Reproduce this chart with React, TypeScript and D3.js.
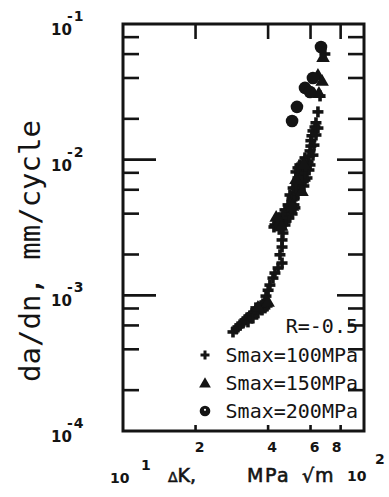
import * as d3 from 'd3';

// da/dn vs ΔK, R = -0.5
const smax100: [number, number][] = [
  [28.6, 0.000537], [29.5, 0.000565], [30.0, 0.000585], [30.6, 0.000605], [31.5, 0.000626],
  [32.1, 0.000659], [32.7, 0.000681], [33.0, 0.000637], [33.6, 0.000705], [34.3, 0.00073],
  [34.6, 0.000681], [35.3, 0.000755], [35.6, 0.000808], [36.3, 0.000742], [37.0, 0.000821],
  [37.7, 0.00078], [38.1, 0.000865], [38.8, 0.000808], [39.6, 0.000835], [38.8, 0.000894],
  [39.2, 0.000987], [40.0, 0.00109], [40.7, 0.00119], [41.9, 0.00134], [42.7, 0.00146],
  [44.0, 0.00159], [45.7, 0.00173], [44.8, 0.00199], [45.7, 0.00227], [45.7, 0.00256],
  [46.1, 0.00288], [42.7, 0.0033], [44.0, 0.00347], [45.3, 0.0036], [46.6, 0.00372],
  [47.9, 0.00391], [47.0, 0.0033], [49.3, 0.00412], [48.4, 0.00464], [50.3, 0.00505],
  [49.3, 0.00549], [50.3, 0.00531], [51.7, 0.00568], [50.8, 0.00618], [52.7, 0.00651],
  [54.2, 0.00684], [53.2, 0.00733], [55.3, 0.00772], [52.2, 0.00812], [55.8, 0.00839],
  [57.5, 0.00869], [54.2, 0.00914], [58.6, 0.00962], [56.9, 0.0103], [54.2, 0.00598],
  [56.9, 0.00708], [51.2, 0.00464], [47.0, 0.00426], [59.1, 0.0106], [59.7, 0.0116],
  [60.2, 0.0126], [60.2, 0.0138], [60.8, 0.015], [61.4, 0.0163], [62.6, 0.0174],
  [63.2, 0.0187], [64.4, 0.0225], [65.7, 0.0295], [68.8, 0.0601],
  [42.3, 0.00319], [43.6, 0.00325], [44.8, 0.00315], [46.1, 0.00336], [47.5, 0.00353],
  [48.8, 0.00372], [46.1, 0.00398], [50.3, 0.00398], [51.7, 0.00441], [49.8, 0.00441],
  [51.2, 0.00513], [53.2, 0.00558], [56.3, 0.0064], [58.0, 0.00733], [54.2, 0.00785],
  [56.9, 0.00798], [59.1, 0.00839], [53.2, 0.00869], [55.8, 0.00946], [59.7, 0.00914],
  [52.2, 0.00618], [55.3, 0.00696], [62.0, 0.0128], [63.2, 0.0152], [61.4, 0.0108],
  [64.4, 0.0171],
];

const smax150: [number, number][] = [
  [67.6, 0.0562], [64.4, 0.0415], [67.0, 0.0374], [65.0, 0.0305], [52.2, 0.00708],
  [55.3, 0.00578], [44.8, 0.00347], [49.3, 0.00464], [56.3, 0.00914], [36.3, 0.000808],
  [40.0, 0.000879], [43.2, 0.00372], [45.5, 0.0032], [50.5, 0.0045],
];

const smax200: [number, number][] = [
  [66.3, 0.0677], [61.4, 0.04], [56.9, 0.0338], [59.7, 0.0315], [52.7, 0.0245], [50.3, 0.0193],
];

const xTicks = [2, 4, 6, 8];
const minorY = [2, 4, 6, 8];
const decades = [-1, -2, -3, -4];
const legendLabels = ['Smax=100MPa', 'Smax=150MPa', 'Smax=200MPa'];

const W = 389;
const H = 497;
const ink = '#141414';

function Plus({ cx, cy, s = 5.5, w = 3.6 }: { cx: number; cy: number; s?: number; w?: number }) {
  return (
    <g stroke={ink} strokeWidth={w}>
      <line x1={cx - s} x2={cx + s} y1={cy} y2={cy} />
      <line x1={cx} x2={cx} y1={cy - s} y2={cy + s} />
    </g>
  );
}

const triPath = d3.symbol(d3.symbolTriangle, 80)() as string;
const triSmall = d3.symbol(d3.symbolTriangle, 60)() as string;

function Tri({ cx, cy, small = false }: { cx: number; cy: number; small?: boolean }) {
  return <path d={small ? triSmall : triPath} transform={`translate(${cx},${cy})`} fill={ink} />;
}

function Dot({ cx, cy, hole = false }: { cx: number; cy: number; hole?: boolean }) {
  return (
    <g>
      <circle cx={cx} cy={cy} r={hole ? 5.3 : 6.3} fill={ink} />
      {hole && <circle cx={cx} cy={cy - 1.2} r={1.1} fill="#fff" />}
    </g>
  );
}

export default function App() {
  const x = d3.scaleLog().domain([10, 100]).range([123, 364]);
  const y = d3.scaleLog().domain([1e-4, 1e-1]).range([431, 24]);
  const [x0, x1] = x.range();
  const [y0, y1] = [y(1e-4), y(1e-1)];

  const minorYVals: number[] = [];
  [-4, -3, -2].forEach(e => minorY.forEach(m => minorYVals.push(m * Math.pow(10, e))));
  const majorYVals = [1e-2, 1e-3];

  const sans = 'DejaVu Sans, sans-serif';
  const mono = 'DejaVu Sans Mono, monospace';

  return (
    <svg width={W} height={H} style={{ position: 'absolute', left: 0, top: 0, background: '#fff' }}>
      <rect width={W} height={H} fill="#fff" />

      {/* frame */}
      <rect x={x0} y={y1} width={x1 - x0} height={y0 - y1} fill="none" stroke={ink} strokeWidth={3} />

      {/* ticks, all pointing inward */}
      <g stroke={ink} strokeWidth={2.6}>
        {minorYVals.map(v => (
          <g key={`my${v}`}>
            <line x1={x0} x2={x0 + 16} y1={y(v)} y2={y(v)} />
            <line x1={x1} x2={x1 - 16} y1={y(v)} y2={y(v)} />
          </g>
        ))}
        {majorYVals.map(v => (
          <g key={`My${v}`}>
            <line x1={x0} x2={x0 + 33} y1={y(v)} y2={y(v)} />
            <line x1={x1} x2={x1 - 27} y1={y(v)} y2={y(v)} />
          </g>
        ))}
        {xTicks.map(t => (
          <g key={`xt${t}`}>
            <line x1={x(t * 10)} x2={x(t * 10)} y1={y1} y2={y1 + 15} />
            <line x1={x(t * 10)} x2={x(t * 10)} y1={y0} y2={y0 - 6} />
          </g>
        ))}
      </g>

      {/* y tick labels */}
      {decades.map(e => {
        const py = y(Math.pow(10, e));
        return (
          <g key={`yl${e}`} fontFamily={sans} fontWeight="bold" fill={ink}>
            <text x={51} y={py + 11} fontSize={15}>10</text>
            <text x={67} y={py - 3} fontSize={14} letterSpacing={1}>{`-${-e}`}</text>
          </g>
        );
      })}

      {/* x tick labels */}
      {xTicks.map(t => (
        <text key={`xl${t}`} x={x(t * 10) + (t === 8 ? -4 : 4)} y={452} textAnchor="middle"
          fontFamily={sans} fontWeight="bold" fontSize={14} fill={ink}>{t}</text>
      ))}
      <g fontFamily={sans} fontWeight="bold" fill={ink}>
        <text x={110} y={483} fontSize={14}>10</text>
        <text x={141} y={470} fontSize={14}>1</text>
        <text x={347} y={481} fontSize={14}>10</text>
        <text x={375} y={464} fontSize={14}>2</text>
      </g>

      {/* axis titles */}
      <text transform="translate(40,251) rotate(-90)" textAnchor="middle" fontFamily={mono}
        fontSize={29} fill={ink}>da/dn, mm/cycle</text>
      <g fontFamily={sans} fontSize={19} fill={ink} stroke={ink} strokeWidth={0.6}>
        <text x={168} y={482}>
          <tspan fontSize={14}>Δ</tspan>K,
        </text>
        <text x={247} y={482} letterSpacing={1.5}>MPa</text>
        <text x={302} y={482} letterSpacing={1}>√m</text>
      </g>

      {/* data */}
      {smax100.map((d, i) => <Plus key={`p${i}`} cx={x(d[0])} cy={y(d[1])} />)}
      {smax150.map((d, i) => <Tri key={`t${i}`} cx={x(d[0])} cy={y(d[1])} />)}
      {smax200.map((d, i) => <Dot key={`c${i}`} cx={x(d[0])} cy={y(d[1])} />)}

      {/* legend */}
      <g fontFamily={mono} fontSize={20} fill={ink} textAnchor="end">
        <text x={358} y={333}>R=-0.5</text>
        {legendLabels.map((l, i) => (
          <text key={l} x={358} y={362 + i * 28}>{l}</text>
        ))}
      </g>
      <Plus cx={205} cy={355} s={4.5} w={3} />
      <Tri cx={205} cy={384} small />
      <Dot cx={205} cy={411} hole />
    </svg>
  );
}
